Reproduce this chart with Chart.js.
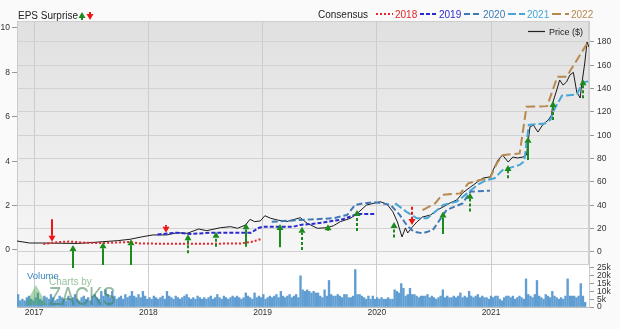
<!doctype html>
<html>
<head>
<title>EPS Surprise</title>
<script src="https://cdn.jsdelivr.net/npm/chart.js@4.4.0/dist/chart.umd.min.js"></script>
<style>
  html, body { margin: 0; padding: 0; background: #fafafa; }
</style>
</head>
<body>
<canvas id="eps" width="620" height="329"></canvas>
<script>
// ---- data (x in decimal years) ----
const yearTicks = [2017, 2018, 2019, 2020, 2021];
const epsTicks = [0, 2, 4, 6, 8, 10];
const priceTicks = [0, 20, 40, 60, 80, 100, 120, 140, 160, 180];
const volTicks = [0, 5, 10, 15, 20, 25];

const priceX = [2016.85, 2016.96, 2017.08, 2017.23, 2017.38, 2017.49, 2017.60, 2017.73, 2017.84, 2017.95,
  2018.04, 2018.16, 2018.25, 2018.34, 2018.44, 2018.51, 2018.54, 2018.63, 2018.72, 2018.78,
  2018.85, 2018.89, 2018.93, 2018.98, 2019.02, 2019.07, 2019.13, 2019.21, 2019.33, 2019.39,
  2019.48, 2019.56, 2019.62, 2019.68, 2019.77, 2019.83, 2019.91, 2020.03, 2020.09, 2020.14,
  2020.18, 2020.22, 2020.25, 2020.27, 2020.31, 2020.35, 2020.40, 2020.47, 2020.53, 2020.58,
  2020.64, 2020.70, 2020.75, 2020.82, 2020.88, 2020.93, 2020.99, 2021.03, 2021.06, 2021.10,
  2021.15, 2021.19, 2021.23, 2021.28, 2021.31, 2021.34, 2021.37, 2021.41, 2021.45, 2021.50,
  2021.53, 2021.54, 2021.58, 2021.60, 2021.63, 2021.66, 2021.69, 2021.72, 2021.75, 2021.78,
  2021.79, 2021.82, 2021.84, 2021.856];
const priceY = [9.4, 7.7, 7.7, 7.5, 7.3, 8.0, 8.8, 9.7, 10.9, 13.1,
  14.6, 14.6, 16.5, 16.0, 19.7, 18.3, 18.9, 20.8, 21.7, 20.3,
  23.1, 28.0, 26.0, 26.6, 31.1, 28.9, 27.4, 26.0, 29.4, 24.6,
  20.3, 20.8, 22.5, 26.0, 28.9, 33.2, 40.3, 43.1, 40.9, 34.5,
  25.7, 12.9, 20.6, 16.3, 21.4, 25.7, 30.0, 31.7, 36.0, 38.6,
  42.0, 44.6, 50.6, 55.7, 60.0, 63.4, 64.3, 72.8, 78.8, 83.1,
  77.1, 81.4, 80.6, 81.4, 83.1, 107.1, 108.8, 102.8, 108.8, 113.1,
  117.4, 128.0, 140.5, 147.4, 143.1, 145.7, 151.7, 154.0, 137.0, 132.0,
  141.4, 162.0, 180.0, 175.7];

const c2018X = [2017.08, 2017.2, 2017.3, 2017.45, 2017.58, 2017.84, 2017.93, 2018.3, 2018.8, 2018.9, 2018.99];
const c2018Y = [0.27, 0.35, 0.38, 0.33, 0.31, 0.36, 0.29, 0.28, 0.29, 0.36, 0.50];
const c2019X = [2018.08, 2018.25, 2018.37, 2018.54, 2018.9, 2018.96, 2019.0, 2019.27, 2019.33, 2019.48, 2019.7, 2019.83, 2019.98];
const c2019Y = [0.70, 0.78, 0.72, 0.78, 0.78, 0.98, 1.05, 1.05, 1.13, 1.20, 1.38, 1.62, 1.62];
const c2020X = [2019.08, 2019.33, 2019.62, 2019.74, 2019.81, 2019.88, 2019.97, 2020.05, 2020.12, 2020.2,
  2020.26, 2020.32, 2020.4, 2020.49, 2020.55, 2020.61, 2020.75, 2020.82, 2020.99];
const c2020Y = [1.27, 1.35, 1.43, 1.58, 2.03, 2.10, 2.15, 2.10, 2.03, 1.58,
  1.13, 0.83, 0.75, 0.90, 1.35, 1.80, 2.10, 2.63, 2.67];
const c2021X = [2020.16, 2020.26, 2020.35, 2020.44, 2020.51, 2020.58, 2020.7, 2020.79, 2020.88, 2020.96,
  2021.03, 2021.1, 2021.25, 2021.29, 2021.33, 2021.47, 2021.52, 2021.56, 2021.62, 2021.75, 2021.8, 2021.856];
const c2021Y = [2.10, 1.72, 1.43, 1.43, 1.72, 2.03, 2.18, 2.55, 2.93, 3.15,
  3.23, 3.6, 3.83, 4.0, 5.63, 5.7, 5.87, 6.4, 6.95, 7.0, 7.54, 7.6];
const c2022X = [2020.4, 2020.51, 2020.57, 2020.73, 2020.8, 2020.9, 2020.99, 2021.05, 2021.1, 2021.25,
  2021.31, 2021.49, 2021.58, 2021.66, 2021.84, 2021.856];
const c2022Y = [1.8, 2.1, 2.48, 2.55, 3.0, 3.15, 3.23, 3.9, 4.27, 4.35,
  6.45, 6.48, 7.8, 7.8, 9.3, 9.3];

// EPS surprise arrows: date, tail value, head value (EPS axis)
const arrowX = [2017.157, 2017.341, 2017.604, 2017.849, 2018.155, 2018.347, 2018.592, 2018.855, 2019.152, 2019.345,
  2019.572, 2019.826, 2020.15, 2020.307, 2020.578, 2020.815, 2021.147, 2021.322, 2021.541, 2021.803];
const arrowFrom = [1.38, -0.81, -0.68, -0.68, 1.13, -0.15, 0.15, 0.15, 0.12, 0.0,
  0.86, 0.86, 0.56, 1.95, 0.72, 1.73, 3.23, 4.05, 5.86, 6.83];
const arrowTo = [0.37, 0.23, 0.35, 0.48, 0.78, 0.71, 0.82, 1.2, 1.17, 1.05,
  1.16, 1.8, 1.26, 1.13, 1.73, 2.58, 3.83, 5.1, 6.71, 7.69];

// weekly volume, thousands
const volStart = 2016.85;
const volume = [
  8,4,5,4,6,7,5,4,6,9,5,4,7,6,5,8,6,4,5,7,
  6,5,4,7,5,6,8,5,4,6,7,5,6,4,7,8,6,5,10,7,
  11,8,6,10,7,5,6,7,5,8,6,7,10,7,6,8,6,10,7,5,
  6,5,7,6,5,6,7,5,10,7,6,5,7,6,5,6,7,8,6,5,
  6,5,7,6,5,6,5,6,7,5,6,8,6,5,7,6,5,6,7,6,
  7,6,5,6,9,7,6,5,9,6,7,6,8,5,6,7,6,7,8,6,
  10,7,6,7,8,6,7,8,6,20,11,10,11,10,9,10,9,9,7,6,
  11,7,17,8,7,7,8,7,6,8,8,6,6,7,24,8,8,7,6,5,
  7,5,7,5,6,5,6,5,5,6,5,5,11,10,9,15,12,7,8,12,
  8,8,7,6,7,7,7,8,6,7,6,5,6,7,11,6,7,6,6,7,
  6,7,9,6,7,6,10,7,6,7,8,6,7,6,6,5,7,6,7,7,
  5,4,6,7,7,6,7,5,6,7,6,5,18,8,7,6,8,17,7,6,
  5,8,7,6,10,7,6,5,6,5,7,18,7,7,7,6,7,15,7,3];

// ---- styles ----
const FONT = 'Liberation Sans, Arial, sans-serif';
const GREEN = '#1d8a1d';
const RED = '#ee1515';
const dashedArrows = [5, 6, 9, 10, 11, 12, 13, 15, 16, 18, 19];
const consensus = [
  { label: '2018', xs: c2018X, ys: c2018Y, color: '#e8232b', dash: [2, 2] },
  { label: '2019', xs: c2019X, ys: c2019Y, color: '#2a2ad2', dash: [4, 2] },
  { label: '2020', xs: c2020X, ys: c2020Y, color: '#3d79b8', dash: [6, 3] },
  { label: '2021', xs: c2021X, ys: c2021Y, color: '#47a6d6', dash: [8, 3] },
  { label: '2022', xs: c2022X, ys: c2022Y, color: '#b8894f', dash: [9, 4] },
];

const pts = (xs, ys) => xs.map((x, i) => ({ x: x, y: ys[i] }));

const datasets = consensus.map(c => ({
  label: c.label,
  data: pts(c.xs, c.ys),
  yAxisID: 'yEps',
  borderColor: c.color,
  borderWidth: 2,
  borderDash: c.dash,
  pointRadius: 0,
  tension: 0,
}));
datasets.push({
  label: 'Price ($)',
  data: pts(priceX, priceY),
  yAxisID: 'yPrice',
  borderColor: '#1a1a1a',
  borderWidth: 1,
  pointRadius: 0,
  tension: 0,
});
datasets.push({
  type: 'bar',
  label: 'Volume',
  data: volume.map((v, i) => ({ x: volStart + (i + 0.5) * 7 / 365.25, y: v })),
  yAxisID: 'yVol',
  backgroundColor: '#5f9dd2',
  barThickness: 1.7,
});

const setTicks = list => scale => { scale.ticks = list.map(v => ({ value: v })); };
const tickFont = { family: FONT, size: 8.5 };

const drawArrow = (ctx, x, y0, y1, color, dashed) => {
  const up = y1 < y0;
  const head = 6;
  ctx.save();
  ctx.strokeStyle = color;
  ctx.fillStyle = color;
  ctx.lineWidth = 2;
  ctx.setLineDash(dashed ? [3, 2] : []);
  ctx.beginPath();
  ctx.moveTo(x, y0);
  ctx.lineTo(x, up ? y1 + head : y1 - head);
  ctx.stroke();
  ctx.setLineDash([]);
  ctx.beginPath();
  ctx.moveTo(x, y1);
  ctx.lineTo(x - 3.5, up ? y1 + head : y1 - head);
  ctx.lineTo(x + 3.5, up ? y1 + head : y1 - head);
  ctx.closePath();
  ctx.fill();
  ctx.restore();
};

const decor = {
  id: 'decor',
  beforeDraw(chart) {
    const ctx = chart.ctx;
    const a = chart.chartArea;
    const p = chart.scales.yPrice;
    ctx.save();
    ctx.fillStyle = '#fafafa';
    ctx.fillRect(0, 0, chart.width, chart.height);
    const g = ctx.createLinearGradient(0, p.top, 0, p.bottom);
    g.addColorStop(0, '#e0e0e0');
    g.addColorStop(1, '#f7f7f7');
    ctx.fillStyle = g;
    ctx.fillRect(a.left, p.top, a.right - a.left, p.bottom - p.top);
    ctx.fillStyle = '#ffffff';
    ctx.fillRect(a.left, p.bottom, a.right - a.left, a.bottom - p.bottom);
    ctx.strokeStyle = '#cfcfcf';
    ctx.lineWidth = 1;
    ctx.strokeRect(a.left + 0.5, p.top + 0.5, a.right - a.left - 1, p.bottom - p.top);
    ctx.restore();
  },
  afterDatasetsDraw(chart) {
    const ctx = chart.ctx;
    const xs = chart.scales.x;
    const ye = chart.scales.yEps;
    const a = chart.chartArea;
    arrowX.forEach((d, i) => {
      const x = Math.round(xs.getPixelForValue(d));
      const y0 = ye.getPixelForValue(arrowFrom[i]);
      const y1 = ye.getPixelForValue(arrowTo[i]);
      drawArrow(ctx, x, y0, y1, y1 < y0 ? GREEN : RED, dashedArrows.includes(i));
    });

    ctx.save();
    // watermark
    ctx.fillStyle = 'rgba(70,165,80,0.45)';
    ctx.beginPath();
    ctx.moveTo(a.left + 8, 305);
    ctx.lineTo(a.left + 19, 285);
    ctx.lineTo(a.left + 30, 305);
    ctx.closePath();
    ctx.fill();
    ctx.fillStyle = 'rgba(80,150,90,0.6)';
    ctx.font = '10px ' + FONT;
    ctx.textBaseline = 'alphabetic';
    ctx.fillText('Charts by', 49, 285);
    ctx.save();
    ctx.translate(49, 305);
    ctx.scale(0.8, 1);
    ctx.font = '25px ' + FONT;
    ctx.fillStyle = 'rgba(60,130,80,0.55)';
    ctx.fillText('ZACKS', 0, 0);
    ctx.restore();
    ctx.fillStyle = '#3a86c6';
    ctx.font = '9.5px ' + FONT;
    ctx.fillText('Volume', 27, 279);

    // price legend
    ctx.strokeStyle = '#222';
    ctx.lineWidth = 1.2;
    ctx.beginPath();
    ctx.moveTo(528, 31.5);
    ctx.lineTo(545, 31.5);
    ctx.stroke();
    ctx.fillStyle = '#222';
    ctx.font = '9px ' + FONT;
    ctx.fillText('Price ($)', 549, 34.5);

    // title
    ctx.font = '10px ' + FONT;
    ctx.fillStyle = '#222';
    ctx.fillText('EPS Surprise', 18, 19);
    drawArrow(ctx, 82, 20, 12, GREEN, false);
    drawArrow(ctx, 90, 12, 20, RED, false);

    // consensus legend
    ctx.fillStyle = '#222';
    ctx.fillText('Consensus', 318, 17.5);
    let x = 376;
    consensus.forEach(c => {
      ctx.strokeStyle = c.color;
      ctx.lineWidth = 2;
      ctx.setLineDash(c.dash);
      ctx.beginPath();
      ctx.moveTo(x, 14);
      ctx.lineTo(x + 17, 14);
      ctx.stroke();
      ctx.setLineDash([]);
      ctx.fillStyle = c.color;
      ctx.fillText(c.label, x + 19, 17.5);
      x += 44;
    });
    ctx.restore();
  }
};

new Chart(document.getElementById('eps').getContext('2d'), {
  type: 'line',
  data: { datasets: datasets },
  plugins: [decor],
  options: {
    responsive: false,
    animation: false,
    devicePixelRatio: 1,
    layout: { padding: { top: 21, left: 0, right: 0, bottom: 0 } },
    plugins: { legend: { display: false }, tooltip: { enabled: false } },
    scales: {
      x: {
        type: 'linear', min: 2016.85, max: 2021.857, offset: false,
        afterBuildTicks: setTicks(yearTicks),
        afterFit: s => { s.height = 22; },
        ticks: { callback: v => String(v), font: tickFont, color: '#333', padding: 1, maxRotation: 0, autoSkip: false },
        grid: { color: '#cccccc', drawTicks: false, offset: false },
        border: { color: '#bbbbbb' },
      },
      yEps: {
        position: 'left', min: -2.568, max: 10.315,
        afterBuildTicks: setTicks(epsTicks),
        afterFit: s => { s.width = 17; },
        ticks: { font: tickFont, color: '#333', padding: 2, autoSkip: false },
        grid: { drawOnChartArea: false, tickLength: 5, tickColor: '#999' },
        border: { color: '#cccccc' },
      },
      yPrice: {
        position: 'right', stack: 'r', stackWeight: 243, min: -10.3, max: 198,
        afterBuildTicks: setTicks(priceTicks),
        afterFit: s => { s.width = 31; },
        ticks: { font: tickFont, color: '#333', padding: 3, autoSkip: false },
        grid: { color: '#d2d2d2', tickLength: 5, tickColor: '#999' },
        border: { color: '#cccccc' },
      },
      yVol: {
        position: 'right', stack: 'r', stackWeight: 43, min: 0, max: 27.56,
        afterBuildTicks: setTicks(volTicks),
        afterFit: s => { s.width = 31; },
        ticks: { font: tickFont, color: '#333', padding: 3, autoSkip: false,
          callback: v => v === 0 ? '0' : v + 'k' },
        grid: { drawOnChartArea: false, tickLength: 5, tickColor: '#999' },
        border: { color: '#cccccc' },
      },
    },
  },
});
</script>
</body>
</html>
